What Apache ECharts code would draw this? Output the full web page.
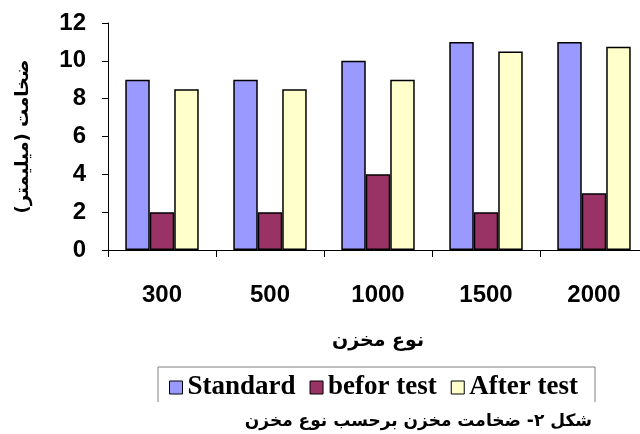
<!DOCTYPE html>
<html>
<head>
<meta charset="utf-8">
<script src="https://cdn.jsdelivr.net/npm/echarts@6/dist/echarts.min.js"></script>
<style>
  html, body { margin: 0; padding: 0; background: #ffffff; }
  #chart { width: 640px; height: 434px; }
</style>
</head>
<body>
<div id="chart"></div>
<script>
// Tank capacity groups (x axis)
const categories = ['300', '500', '1000', '1500', '2000'];

// Wall thickness in millimetres per series
const standardValues = [9, 9, 10, 11, 11];
const beforTestValues = [2, 2, 4, 2, 3];
const afterTestValues = [8.5, 8.5, 9, 10.5, 10.75];

const seriesNames = ['Standard', 'befor test', 'After test'];
const seriesColors = ['#9999FF', '#993366', '#FFFFCC'];

const yTicks = { min: 0, max: 12, interval: 2 };

const yAxisTitle = 'ضخامت (میلیمتر)';
const xAxisTitle = 'نوع مخزن';
const caption = 'شکل ۲- ضخامت مخزن برحسب نوع مخزن';

const arabicFont = '"DejaVu Sans", "Noto Sans", sans-serif';
const numFont = '"Liberation Sans", Arial, sans-serif';
const legendFont = '"Liberation Serif", "Times New Roman", serif';

const chart = echarts.init(document.getElementById('chart'), null, { renderer: 'canvas' });

const seriesData = [standardValues, beforTestValues, afterTestValues];

chart.setOption({
  backgroundColor: '#ffffff',
  animation: false,
  // plot area runs slightly past the right edge of the canvas
  grid: { left: 108, top: 23, width: 540, height: 227, containLabel: false, outerBoundsMode: 'none' },
  legend: {
    data: seriesNames,
    left: 164,
    top: 369,
    icon: 'rect',
    itemWidth: 13,
    itemHeight: 13,
    itemGap: 14,
    textStyle: { fontFamily: legendFont, fontWeight: 'bold', fontSize: 27, color: '#000' },
    itemStyle: { borderColor: '#000', borderWidth: 1 }
  },
  xAxis: {
    type: 'category',
    data: categories,
    name: xAxisTitle,
    nameLocation: 'middle',
    nameGap: 82,
    nameTextStyle: { fontFamily: arabicFont, fontWeight: 'bold', fontSize: 19, color: '#000' },
    axisLine: { lineStyle: { color: '#000', width: 1 } },
    axisTick: { show: true, length: 7, lineStyle: { color: '#000' } },
    axisLabel: { margin: 33, fontFamily: numFont, fontWeight: 'bold', fontSize: 24, color: '#000' }
  },
  yAxis: {
    type: 'value',
    min: yTicks.min,
    max: yTicks.max,
    interval: yTicks.interval,
    name: yAxisTitle,
    nameLocation: 'middle',
    nameGap: 76,
    nameTextStyle: { fontFamily: arabicFont, fontWeight: 'bold', fontSize: 18, color: '#000' },
    axisLine: { show: true, lineStyle: { color: '#000', width: 1 } },
    axisTick: { show: true, length: 6, lineStyle: { color: '#000' } },
    splitLine: { show: false },
    axisLabel: { margin: 22, fontFamily: numFont, fontWeight: 'bold', fontSize: 24, color: '#000' }
  },
  series: seriesNames.map((name, i) => ({
    name: name,
    type: 'bar',
    data: seriesData[i],
    barGap: '0%',
    barCategoryGap: '32%',
    itemStyle: { color: seriesColors[i], borderColor: '#000', borderWidth: 1.5 }
  })),
  graphic: [
    {
      // legend frame: open at the bottom
      type: 'polyline',
      shape: { points: [[158, 402], [158, 367], [595, 367], [595, 402]] },
      style: { stroke: '#808080', lineWidth: 1, fill: null }
    },
    {
      type: 'text',
      right: 48,
      top: 413,
      style: {
        text: caption,
        font: 'bold 17px ' + arabicFont,
        fill: '#000'
      }
    }
  ]
});
</script>
</body>
</html>
